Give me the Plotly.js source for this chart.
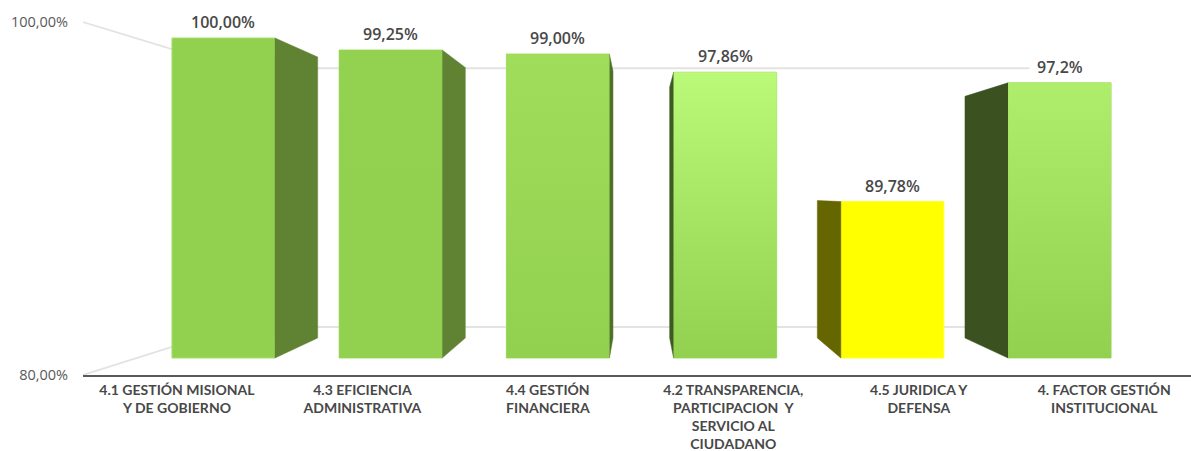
<!DOCTYPE html>
<html><head><meta charset="utf-8">
<script src="https://cdn.plot.ly/plotly-3.0.1.min.js"></script>
<style>html,body{margin:0;padding:0;background:#fff;overflow:hidden}</style>
</head><body><div id="chart" style="width:1191px;height:451px"></div>
<script>
const categories = ["4.1 GESTIÓN MISIONAL<br>Y DE GOBIERNO","4.3 EFICIENCIA<br>ADMINISTRATIVA","4.4 GESTIÓN<br>FINANCIERA","4.2 TRANSPARENCIA,<br>PARTICIPACION  Y<br>SERVICIO AL<br>CIUDADANO","4.5 JURIDICA Y<br>DEFENSA","4. FACTOR GESTIÓN<br>INSTITUCIONAL"];
const values = [100, 99.25, 99, 97.86, 89.78, 97.2];
const valueLabels = ["100,00%","99,25%","99,00%","97,86%","89,78%","97,2%"];
const axisValues = [80, 100];
const axisLabels = ["80,00%","100,00%"];

const frontColors = ["#92d050","#92d050","#92d050","#92d050","#ffff00","#92d050"];
const gradientTops = ["#92d050","#93d150","#a0dd5a","#bafa78","#ffff00","#aeee6c"];
const edgeColors = ["#a8e06c","#a8e06c","#a8e06c","#a8e06c","#ffff33","#a8e06c"];
const sideColors = ["#5f8333","#5f8333","#4f7028","#3f5a20","#666600","#3b5220"];

const BASE = 80, BAR_W = 0.616;
// projection of the 3D box: how far the rear face is pulled towards the vanishing point
const KX = 0.117, KY = 0.122, VX = 2.49, VY = 90.25;
const back = (x, v) => [x + (VX - x) * KX, v + (VY - v) * KY];
const idx = values.map((_, i) => i);
const slotOrigin = -0.278, slotPitch = 1.109;   // label slots on the floor line
const labelSlots = idx.map(i => slotOrigin + i * slotPitch);

const traces = [];
traces.push({type:'bar', x:idx, y:values.map(v => v - BASE), base:BASE, width:BAR_W,
  marker:{color:frontColors, line:{color:edgeColors, width:1}}, hoverinfo:'skip', showlegend:false});

values.forEach((v, i) => {
  const edge = i + (i < 3 ? BAR_W / 2 : -BAR_W / 2);
  const t = back(edge, v), b = back(edge, BASE);
  traces.push({type:'scatter', mode:'lines', x:[edge, t[0], b[0], edge, edge], y:[v, t[1], b[1], BASE, v],
    fill:'toself', fillcolor:sideColors[i], line:{color:sideColors[i], width:0.5},
    hoverinfo:'skip', showlegend:false});
  const l = i - BAR_W / 2, r = i + BAR_W / 2;
  if (gradientTops[i] !== frontColors[i]) {
    traces.push({type:'scatter', mode:'lines', x:[l, r, r, l, l], y:[BASE, BASE, v, v, BASE],
      fill:'toself', line:{color:'rgba(0,0,0,0)', width:0},
      fillgradient:{type:'vertical', colorscale:[[0, frontColors[i]],[1, gradientTops[i]]]},
      hoverinfo:'skip', showlegend:false});
  }
});

const XMIN = -0.84, XMAX = 5.786, WALL_X = 0.07, WALL_END = 4.82;
// invisible trace that brings the wall axis to life
traces.push({type:'scatter', mode:'markers', x:[XMIN, XMIN], y:axisValues, yaxis:'y2',
  marker:{opacity:0, size:1}, hoverinfo:'skip', showlegend:false});

const wallInset = [2.72, -2.62];
const shapes = axisValues.map((v, i) => ({type:'path', xref:'x', yref:'y2', layer:'below',
  path:`M ${XMIN} ${v} L ${WALL_X} ${v + wallInset[i]} L ${WALL_END} ${v + wallInset[i]}`,
  line:{color:'#e3e3e3', width:1.8}}));

const annotations = values.map((v, i) => ({x:i, y:v, xref:'x', yref:'y', text:valueLabels[i],
  showarrow:false, yshift:16, yanchor:'middle', xanchor:'center',
  font:{family:'Open Sans', size:16, weight:600, color:'#484848'}}));

const layout = {
  width:1191, height:451, paper_bgcolor:'#fff', plot_bgcolor:'#fff', showlegend:false,
  margin:{l:83, r:0, t:0, b:76, pad:0}, bargap:0,
  xaxis:{range:[XMIN, XMAX], tickmode:'array', tickvals:labelSlots, ticktext:categories, tickangle:0,
    showgrid:false, zeroline:false, showline:true, linecolor:'#595959', linewidth:2,
    ticks:'outside', ticklen:1, tickcolor:'rgba(0,0,0,0)',
    tickfont:{family:'Lato', size:14, weight:700, color:'#484848'}},
  yaxis:{range:[78.9375, 102.375], visible:false, fixedrange:true},
  yaxis2:{range:[80, 101.246], overlaying:'y', side:'left', anchor:'x', tickmode:'array',
    tickvals:axisValues, ticktext:axisLabels, showgrid:false, zeroline:false, showline:false,
    ticks:'outside', ticklen:11, tickcolor:'rgba(0,0,0,0)',
    tickfont:{family:'Open Sans', size:14.5, color:'#595959'}},
  shapes, annotations
};
Plotly.newPlot('chart', traces, layout, {staticPlot:true, displayModeBar:false});
</script></body></html>
